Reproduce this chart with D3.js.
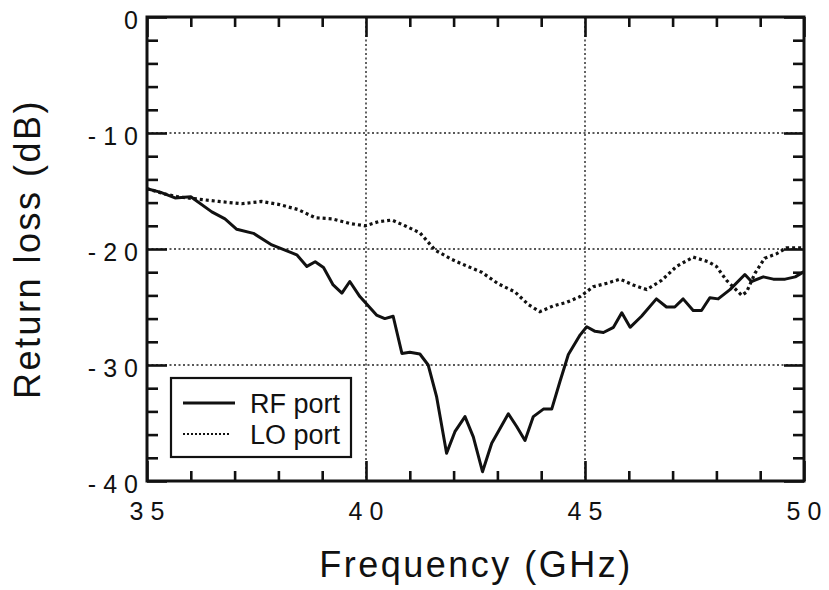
<!DOCTYPE html>
<html><head><meta charset="utf-8">
<script src="https://cdn.jsdelivr.net/npm/d3@7"></script>
<style>body{margin:0;background:#fff}svg{display:block}text{font-family:"Liberation Sans",Arial,Helvetica,sans-serif;fill:#111}</style>
</head><body><svg id="c" width="829" height="590"></svg>
<script>
const rfFreq = [35.0,35.3,35.64,36.0,36.48,36.78,37.05,37.43,37.85,38.15,38.42,38.65,38.84,39.03,39.25,39.45,39.63,39.86,40.24,40.43,40.62,40.82,41.0,41.23,41.42,41.61,41.84,42.03,42.26,42.45,42.66,42.87,43.25,43.44,43.63,43.82,44.05,44.24,44.43,44.62,44.89,45.04,45.23,45.42,45.65,45.84,46.03,46.29,46.63,46.86,47.05,47.24,47.47,47.66,47.85,48.04,48.31,48.65,48.8,49.07,49.3,49.57,49.8,50.0];
const rfLoss = [-14.8,-15.1,-15.6,-15.5,-16.8,-17.4,-18.3,-18.65,-19.65,-20.1,-20.5,-21.5,-21.1,-21.6,-23.1,-23.8,-22.8,-24.1,-25.7,-26.0,-25.8,-29.0,-28.9,-29.05,-30.0,-32.7,-37.6,-35.75,-34.45,-36.2,-39.2,-36.75,-34.2,-35.3,-36.5,-34.45,-33.8,-33.8,-31.4,-29.1,-27.4,-26.7,-27.1,-27.2,-26.75,-25.5,-26.75,-25.8,-24.3,-25.0,-25.0,-24.3,-25.3,-25.3,-24.2,-24.3,-23.5,-22.2,-22.8,-22.4,-22.6,-22.6,-22.4,-21.95];
const loFreq = [35.0,35.4,35.7,36.17,36.63,37.16,37.62,38.0,38.45,38.84,39.22,39.63,39.98,40.28,40.59,40.89,41.23,41.58,41.96,42.26,42.64,43.02,43.4,43.71,43.97,44.28,44.58,44.89,45.19,45.5,45.8,46.1,46.41,46.75,47.09,47.47,47.82,48.0,48.23,48.58,48.69,48.88,49.1,49.38,49.6,49.95];
const loLoss = [-14.8,-15.25,-15.5,-15.7,-15.9,-16.1,-15.9,-16.15,-16.6,-17.3,-17.4,-17.8,-18.0,-17.65,-17.5,-18.0,-18.6,-20.1,-20.9,-21.4,-22.0,-23.0,-23.7,-24.8,-25.4,-24.9,-24.6,-24.1,-23.25,-22.95,-22.6,-23.1,-23.5,-22.7,-21.5,-20.7,-21.1,-21.5,-22.7,-24.0,-23.7,-22.1,-20.8,-20.4,-19.9,-19.9];
const xTicks = [35,40,45,50];
const xTickLabels = ["35","40","45","50"];
const yTicks = [0,-10,-20,-30,-40];
const yTickLabels = ["0","-10","-20","-30","-40"];
const seriesNames = ["RF port","LO port"];

const svg = d3.select("#c");
const L=147,R=804,T=17,B=481;
const x = d3.scaleLinear().domain([35,50]).range([L,R]);
const y = d3.scaleLinear().domain([0,-40]).range([T,B]);

// grid
const g = svg.append("g");
g.selectAll(".vg").data([40,45]).join("line")
  .attr("x1",d=>x(d)).attr("x2",d=>x(d)).attr("y1",T).attr("y2",B)
  .attr("stroke","#222").attr("stroke-width",1.4).attr("stroke-dasharray","2,2.5");
g.selectAll(".hg").data([-10,-20,-30]).join("line")
  .attr("y1",d=>y(d)).attr("y2",d=>y(d)).attr("x1",L).attr("x2",R)
  .attr("stroke","#222").attr("stroke-width",1.4).attr("stroke-dasharray","2,2.5");

// ticks (inward) via d3 axes
const xb = d3.axisBottom(x).tickValues(d3.range(35,51,1)).tickSize(-10).tickFormat("");
const xt = d3.axisTop(x).tickValues(d3.range(35,51,1)).tickSize(-10).tickFormat("");
const yl = d3.axisLeft(y).tickValues(d3.range(0,-41,-2)).tickSize(-11).tickFormat("");
const yr = d3.axisRight(y).tickValues(d3.range(0,-41,-2)).tickSize(-11).tickFormat("");
function styleAx(sel){
  sel.select(".domain").remove();
  sel.selectAll(".tick line").attr("stroke","#111").attr("stroke-width",2.6);
}
svg.append("g").attr("transform",`translate(0,${B})`).call(xb).call(styleAx)
  .selectAll(".tick line").filter(d=>d%5===0).attr("y2",-20);
svg.append("g").attr("transform",`translate(0,${T})`).call(xt).call(styleAx)
  .selectAll(".tick line").filter(d=>d%5===0).attr("y2",20);
svg.append("g").attr("transform",`translate(${L},0)`).call(yl).call(styleAx)
  .selectAll(".tick line").filter(d=>d%10===0).attr("x2",20);
svg.append("g").attr("transform",`translate(${R},0)`).call(yr).call(styleAx)
  .selectAll(".tick line").filter(d=>d%10===0).attr("x2",-20);

// frame
svg.append("rect").attr("x",L).attr("y",T).attr("width",R-L).attr("height",B-T)
  .attr("fill","none").attr("stroke","#111").attr("stroke-width",3);

// tick labels
svg.selectAll(".xl").data(xTicks).join("text")
  .attr("x",d=>x(d)+3.5).attr("y",520).attr("text-anchor","middle")
  .attr("font-size",25).attr("letter-spacing",7).text((d,i)=>xTickLabels[i]);
svg.selectAll(".yl").data(yTicks).join("text")
  .attr("x",145).attr("y",d=>y(d)+12).attr("text-anchor","end")
  .attr("font-size",25).attr("letter-spacing",7).text((d,i)=>yTickLabels[i]);

// axis titles
svg.append("text").attr("x",476).attr("y",577).attr("text-anchor","middle")
  .attr("font-size",36).attr("letter-spacing",2.5).text("Frequency  (GHz)");
svg.append("text").attr("transform","translate(40,249) rotate(-90)").attr("text-anchor","middle")
  .attr("font-size",36).attr("letter-spacing",2.5).text("Return loss  (dB)");

// lines
const line = d3.line().x(d=>x(d[0])).y(d=>y(d[1]));
const lo = loFreq.map((f,i)=>[f,loLoss[i]]);
const rf = rfFreq.map((f,i)=>[f,rfLoss[i]]);
svg.append("path").datum(lo).attr("d",line).attr("fill","none")
  .attr("stroke","#111").attr("stroke-width",3.2).attr("stroke-dasharray","3,3");
svg.append("path").datum(rf).attr("d",line).attr("fill","none")
  .attr("stroke","#111").attr("stroke-width",3).attr("stroke-linejoin","round");

// legend
const lg = svg.append("g");
lg.append("rect").attr("x",171).attr("y",378).attr("width",180).attr("height",79)
  .attr("fill","#fff").attr("stroke","#111").attr("stroke-width",2.2);
lg.append("line").attr("x1",183).attr("x2",235).attr("y1",403).attr("y2",403)
  .attr("stroke","#111").attr("stroke-width",2.8);
lg.append("line").attr("x1",183).attr("x2",229).attr("y1",434).attr("y2",434)
  .attr("stroke","#111").attr("stroke-width",2).attr("stroke-dasharray","2,2");
lg.append("text").attr("x",250).attr("y",413).attr("font-size",27).text(seriesNames[0]);
lg.append("text").attr("x",250).attr("y",444).attr("font-size",27).text(seriesNames[1]);
</script></body></html>
